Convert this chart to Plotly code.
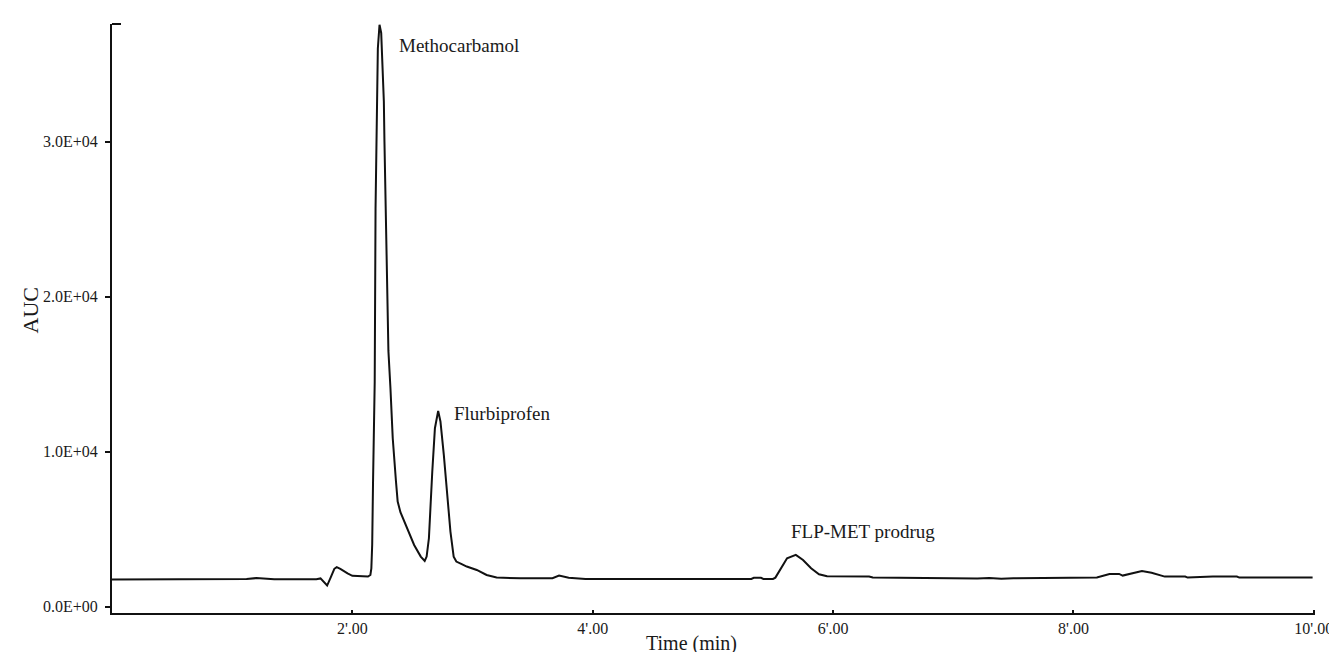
import plotly.graph_objects as go

# Chromatogram trace (time in min, response)
time_min = [0.00, 0.60, 1.05, 1.12, 1.20, 1.28, 1.35, 1.60, 1.70, 1.735, 1.76, 1.79, 1.82, 1.85, 1.87, 1.90,
            1.96, 2.00, 2.13, 2.15, 2.158, 2.165, 2.172, 2.18, 2.186, 2.193, 2.207, 2.212, 2.226, 2.24,
            2.25, 2.262, 2.267, 2.275, 2.285, 2.30, 2.317, 2.336, 2.363, 2.377, 2.40, 2.432, 2.47, 2.514,
            2.569, 2.602, 2.618, 2.637, 2.665, 2.687, 2.714, 2.733, 2.761, 2.788, 2.816, 2.843, 2.865,
            2.91, 2.952, 3.035, 3.117, 3.20, 3.40, 3.665, 3.72, 3.80, 3.94, 4.30, 4.80, 5.32, 5.34,
            5.40, 5.42, 5.50, 5.52, 5.567, 5.617, 5.69, 5.75, 5.817, 5.883, 5.95, 6.30, 6.33, 6.77,
            7.20, 7.30, 7.40, 7.50, 7.77, 8.195, 8.30, 8.38, 8.41, 8.50, 8.57, 8.65, 8.76, 8.93,
            8.95, 9.16, 9.36, 9.38, 9.99]
response = [1760, 1760, 1760, 1800, 1850, 1830, 1780, 1780, 1780, 1830, 1650, 1370, 1900, 2450, 2560, 2450,
            2160, 2000, 1950, 2050, 2480, 4000, 8000, 12000, 14500, 25700, 32000, 36000, 37535, 37000,
            35000, 32600, 30000, 27000, 22000, 16500, 14074, 10870, 8077, 6787, 6100, 5497, 4700, 3987,
            3237, 2955, 3237, 4419, 8722, 11516, 12632, 11948, 9794, 7213, 4852, 3237, 2916,
            2750, 2594, 2374, 2052, 1884, 1840, 1839, 2013, 1870, 1800, 1790, 1800, 1800, 1870,
            1870, 1800, 1800, 1880, 2484, 3129, 3344, 3020, 2484, 2097, 1968, 1950, 1884, 1840,
            1820, 1850, 1815, 1840, 1860, 1884, 2120, 2120, 2013, 2200, 2310, 2200, 1948, 1948,
            1884, 1950, 1950, 1884, 1884]

# Axis ticks
x_tickvals = [2, 4, 6, 8, 10]
x_ticktext = ["2'.00", "4'.00", "6'.00", "8'.00", "10'.00"]
y_tickvals = [0, 10000, 20000, 30000]
y_ticktext = ["0.0E+00", "1.0E+04", "2.0E+04", "3.0E+04"]

# Peak labels
peak_names = ["Methocarbamol", "Flurbiprofen", "FLP-MET prodrug"]
peak_label_x = [2.374, 2.83, 5.633]
peak_label_y = [36226, 12484, 4852]

FONT = "Liberation Serif, Times New Roman, serif"
INK = "#1a1a1a"

fig = go.Figure()
fig.add_trace(go.Scatter(x=time_min, y=response, mode="lines",
                         line=dict(color="#111111", width=2), showlegend=False,
                         hoverinfo="skip"))

for name, px, py in zip(peak_names, peak_label_x, peak_label_y):
    fig.add_annotation(x=px, y=py, text=name, showarrow=False, xanchor="left",
                       yanchor="middle", font=dict(family=FONT, size=19, color=INK))

# axis titles as annotations
fig.add_annotation(xref="paper", yref="paper", x=0.482, y=-0.0755, text="Time (min)",
                   showarrow=False, xanchor="center", yanchor="bottom",
                   font=dict(family=FONT, size=20, color=INK))
fig.add_annotation(xref="paper", yref="paper", x=-0.068, y=0.514, text="AUC",
                   showarrow=False, xanchor="center", yanchor="middle", textangle=-90,
                   font=dict(family=FONT, size=22, color=INK))

# small stub at the top of the y axis
fig.add_shape(type="line", xref="paper", yref="paper", x0=0, x1=0.0075, y0=1, y1=1,
              line=dict(color="#111111", width=2))

fig.update_layout(
    width=1337, height=652,
    margin=dict(l=104, r=20, t=16, b=47),
    paper_bgcolor="white", plot_bgcolor="white",
    xaxis=dict(range=[0, 10.01], tickvals=x_tickvals, ticktext=x_ticktext,
               showline=True, linecolor="#111111", linewidth=2, ticks="inside",
               ticklen=3, tickwidth=1.5, tickcolor="#111111", showgrid=False, zeroline=False,
               tickfont=dict(family=FONT, size=16, color=INK)),
    yaxis=dict(range=[-400, 37580], tickvals=y_tickvals, ticktext=y_ticktext,
               showline=True, linecolor="#111111", linewidth=2, ticks="outside",
               ticklen=5, tickwidth=1.5, tickcolor="#111111", showgrid=False, zeroline=False,
               ticklabelstandoff=4,
               tickfont=dict(family=FONT, size=16, color=INK)),
)

fig.write_html("out.html")
